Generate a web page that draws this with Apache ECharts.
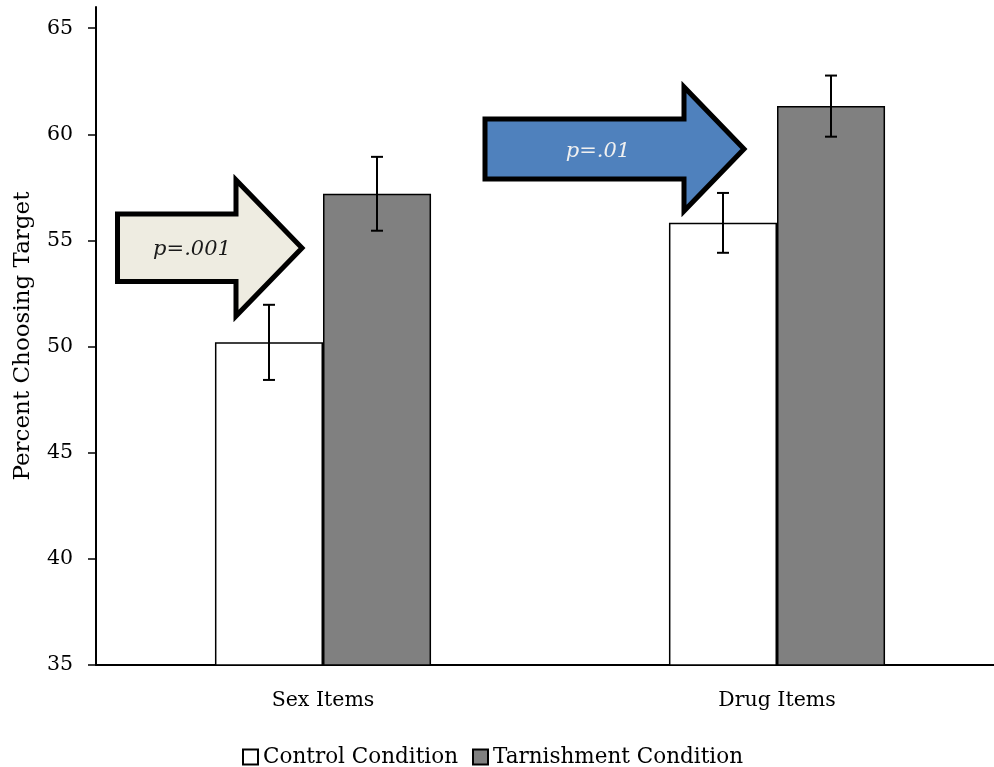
<!DOCTYPE html>
<html>
<head>
<meta charset="utf-8">
<script src="https://cdn.jsdelivr.net/npm/echarts@6/dist/echarts.min.js"></script>
<style>html,body{margin:0;padding:0;background:#fff;overflow:hidden}#c{width:1004px;height:767px}</style>
</head>
<body>
<div id="c"></div>
<script>
var categories = ['Sex Items', 'Drug Items'];
var controlValues = [50.2, 55.83];
var tarnishValues = [57.2, 61.33];
var controlErr = [1.77, 1.41];
var tarnishErr = [1.74, 1.44];
var yTicks = [35, 40, 45, 50, 55, 60, 65];
var seriesNames = ['Control Condition', 'Tarnishment Condition'];
var pLabels = ['p=.001', 'p=.01'];

var FONT = 'DejaVu Serif';
var chart = echarts.init(document.getElementById('c'));

var errData = [];
for (var i = 0; i < categories.length; i++) {
  errData.push([i, controlValues[i], controlErr[i], -1]);
  errData.push([i, tarnishValues[i], tarnishErr[i], 1]);
}

function renderErr(params, api) {
  var ci = api.value(0), v = api.value(1), e = api.value(2), side = api.value(3);
  var bw = api.size([1, 0])[0] * 0.238;
  var c = api.coord([ci, v]);
  var x = c[0] + side * bw / 2;
  var top = api.coord([ci, v + e])[1];
  var bot = api.coord([ci, v - e])[1];
  var cap = 6;
  var st = { stroke: '#000', lineWidth: 2 };
  return {
    type: 'group',
    children: [
      { type: 'line', shape: { x1: x, y1: top, x2: x, y2: bot }, style: st },
      { type: 'line', shape: { x1: x - cap, y1: top, x2: x + cap, y2: top }, style: st },
      { type: 'line', shape: { x1: x - cap, y1: bot, x2: x + cap, y2: bot }, style: st }
    ]
  };
}

function arrow(pts, fill, text, textColor, tx, ty) {
  return [{
    type: 'polygon',
    shape: { points: pts },
    style: { fill: fill, stroke: '#000', lineWidth: 5, lineJoin: 'miter' },
    z: 10
  }, {
    type: 'text',
    x: tx, y: ty,
    style: { text: text, fill: textColor, font: 'italic 21px "' + FONT + '"', align: 'center', verticalAlign: 'middle' },
    z: 11
  }];
}

var graphics = [].concat(
  arrow([[117.5,214],[236,214],[236,180],[302,248],[236,316],[236,281.5],[117.5,281.5]], '#EEECE1', pLabels[0], '#1a1a1a', 192, 250),
  arrow([[485,119],[684,119],[684,87],[744,149],[684,211],[684,179],[485,179]], '#4F81BD', pLabels[1], '#f0f0f0', 598, 152)
);

chart.setOption({
  animation: false,
  backgroundColor: '#fff',
  textStyle: { fontFamily: FONT },
  grid: { left: 96, top: 7, right: 0, bottom: 102 },
  legend: {
    data: seriesNames,
    left: 237, top: 741,
    icon: 'rect', itemWidth: 15, itemHeight: 15, itemGap: 14,
    textStyle: { fontFamily: FONT, fontSize: 21.5, color: '#000' }
  },
  xAxis: {
    type: 'category',
    data: categories,
    axisLine: { lineStyle: { color: '#000', width: 2 } },
    axisTick: { show: false },
    axisLabel: { color: '#000', fontFamily: FONT, fontSize: 20.5, margin: 25 }
  },
  yAxis: {
    type: 'value',
    min: 35, max: 66,
    name: 'Percent Choosing Target',
    nameLocation: 'middle',
    nameGap: 61,
    nameTextStyle: { color: '#000', fontFamily: FONT, fontSize: 23 },
    axisLine: { show: true, lineStyle: { color: '#000', width: 2 } },
    axisTick: { show: true, length: 8, lineStyle: { color: '#000', width: 1.5 }, customValues: yTicks },
    axisLabel: { color: '#000', fontFamily: FONT, fontSize: 20.5, margin: 23, customValues: yTicks },
    splitLine: { show: false }
  },
  series: [
    {
      name: seriesNames[0], type: 'bar', data: controlValues,
      barWidth: '23.8%', barGap: '0%',
      itemStyle: { color: '#ffffff', borderColor: '#000', borderWidth: 1.5 }
    },
    {
      name: seriesNames[1], type: 'bar', data: tarnishValues,
      barWidth: '23.8%', barGap: '0%',
      itemStyle: { color: '#808080', borderColor: '#000', borderWidth: 1.5 }
    },
    {
      name: 'err', type: 'custom', data: errData,
      renderItem: renderErr, z: 5,
      encode: { x: 0, y: 1 }
    }
  ],
  graphic: graphics
});
</script>
</body>
</html>
